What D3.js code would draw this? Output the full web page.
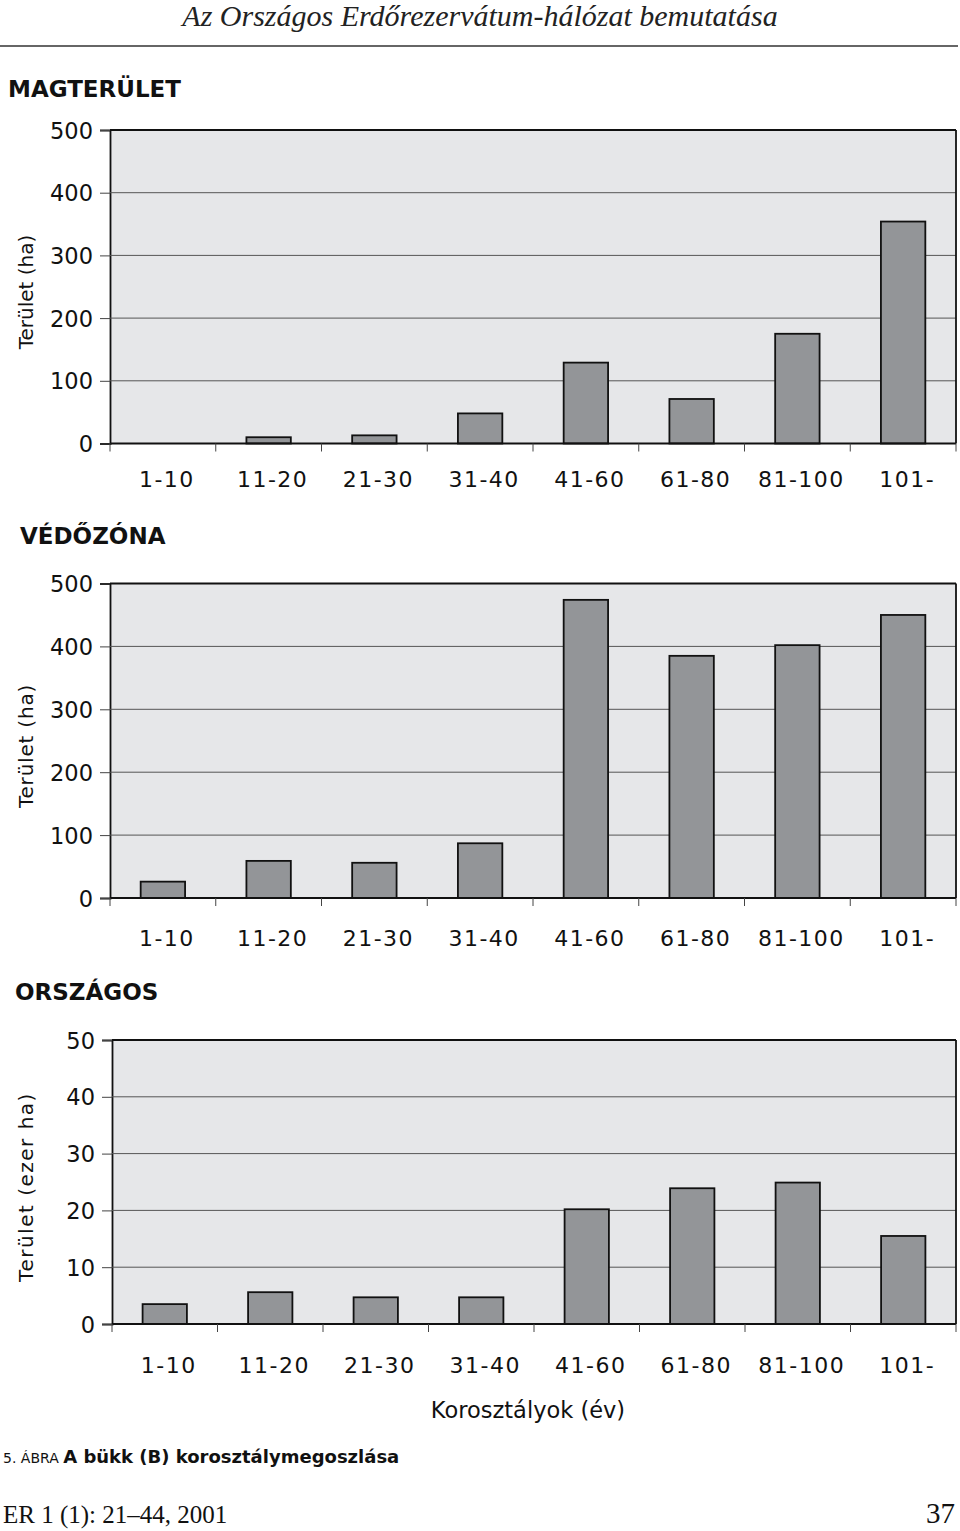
<!DOCTYPE html>
<html><head><meta charset="utf-8">
<script src="https://cdn.jsdelivr.net/npm/d3@7"></script>
<style>
body{margin:0;background:#fff;}
svg{display:block;}
</style></head>
<body>
<script>
const categories = ["1-10","11-20","21-30","31-40","41-60","61-80","81-100","101-"];
const magterulet = [0, 10, 13, 48, 129, 71, 175, 354];
const vedozona = [26, 59, 56, 87, 474, 385, 402, 450];
const orszagos = [3.5, 5.6, 4.7, 4.7, 20.2, 23.9, 24.9, 15.5];
const ticksHa = [0, 100, 200, 300, 400, 500];
const ticksEzer = [0, 10, 20, 30, 40, 50];

const W = 960, H = 1531;
const svg = d3.select("body").append("svg").attr("width", W).attr("height", H);
const sans = "'DejaVu Sans', Lato, sans-serif";
const serif = "'Liberation Serif', 'DejaVu Serif', serif";

// header
svg.append("text").attr("x", 480).attr("y", 26).attr("text-anchor", "middle")
  .attr("font-family", serif).attr("font-style", "italic").attr("font-size", 30).attr("fill", "#222")
  .text("Az Országos Erdőrezervátum-hálózat bemutatása");
svg.append("line").attr("x1", 0).attr("x2", 958).attr("y1", 46).attr("y2", 46)
  .attr("stroke", "#333").attr("stroke-width", 1.5);

function panel(cfg) {
  const x = d3.scaleBand().domain(categories).range([cfg.left, 956]).paddingInner(0.58).paddingOuter(0.29);
  const xb = d3.scaleBand().domain(categories).range([cfg.left, 956]).padding(0);
  const y = d3.scaleLinear().domain([0, cfg.max]).range([cfg.bottom, cfg.top]);
  const g = svg.append("g");
  // background
  g.append("rect").attr("x", cfg.left).attr("y", cfg.top).attr("width", 956 - cfg.left)
    .attr("height", cfg.bottom - cfg.top).attr("fill", "#e6e7e9");
  // y axis
  const ya = g.append("g").attr("transform", `translate(${cfg.left},0)`)
    .call(d3.axisLeft(y).tickValues(cfg.ticks).tickSize(10).tickPadding(7));
  ya.select(".domain").attr("stroke", "#111").attr("stroke-width", 1.8);
  ya.selectAll(".tick line").attr("stroke", "#444").attr("stroke-width", 1);
  ya.selectAll(".tick text").attr("font-family", sans).attr("font-size", 22.5).attr("fill", "#111").attr("dy", "0.36em");
  // grid
  g.append("g").selectAll("line").data(cfg.ticks.filter(t => t > 0 && t < cfg.max)).join("line")
    .attr("x1", cfg.left).attr("x2", 956).attr("y1", d => y(d)).attr("y2", d => y(d))
    .attr("stroke", "#555").attr("stroke-width", 1);
  // top & right border
  g.append("line").attr("x1", cfg.left).attr("x2", 956).attr("y1", y(cfg.max)).attr("y2", y(cfg.max))
    .attr("stroke", "#111").attr("stroke-width", 1.8);
  g.append("line").attr("x1", 956).attr("x2", 956).attr("y1", y(cfg.max)).attr("y2", y(0))
    .attr("stroke", "#111").attr("stroke-width", 1.8);
  // bars
  g.append("g").selectAll("rect").data(cfg.values.map((v, i) => ({c: categories[i], v})).filter(d => d.v > 0)).join("rect")
    .attr("x", d => x(d.c)).attr("width", x.bandwidth())
    .attr("y", d => y(d.v)).attr("height", d => y(0) - y(d.v))
    .attr("fill", "#939598").attr("stroke", "#111").attr("stroke-width", 1.8);
  // x axis
  g.append("line").attr("x1", cfg.left).attr("x2", 956).attr("y1", y(0)).attr("y2", y(0))
    .attr("stroke", "#111").attr("stroke-width", 1.8);
  const bounds = categories.map(c => xb(c)).concat([956]);
  g.append("g").selectAll("line").data(bounds).join("line")
    .attr("x1", d => d).attr("x2", d => d).attr("y1", y(0)).attr("y2", y(0) + 8)
    .attr("stroke", "#444").attr("stroke-width", 1);
  g.append("g").selectAll("text").data(categories).join("text")
    .attr("x", d => xb(d) + xb.bandwidth() / 2 + 4).attr("y", cfg.labelY)
    .attr("text-anchor", "middle").attr("font-family", sans).attr("font-size", 22)
    .attr("letter-spacing", 1.5).attr("fill", "#111").text(d => d);
  // y title
  svg.append("text").attr("transform", `translate(${cfg.titleX},${cfg.titleY}) rotate(-90)`)
    .attr("text-anchor", "middle").attr("font-family", sans).attr("font-size", 20)
    .attr("letter-spacing", cfg.titleSpacing || 0).attr("fill", "#111")
    .text(cfg.yTitle);
  // panel title
  svg.append("text").attr("x", cfg.nameX).attr("y", cfg.nameY).attr("font-family", sans)
    .attr("font-weight", 700).attr("font-size", 23).attr("fill", "#111").text(cfg.name);
}

panel({name: "MAGTERÜLET", nameX: 8, nameY: 97, values: magterulet, ticks: ticksHa, max: 500,
  left: 110, top: 130, bottom: 443.5, labelY: 487, yTitle: "Terület (ha)", titleX: 33, titleY: 292});
panel({name: "VÉDŐZÓNA", nameX: 20, nameY: 544, values: vedozona, ticks: ticksHa, max: 500,
  left: 110, top: 583.5, bottom: 898, labelY: 946, yTitle: "Terület (ha)", titleX: 33, titleY: 746, titleSpacing: 0.8});
panel({name: "ORSZÁGOS", nameX: 15, nameY: 1000, values: orszagos, ticks: ticksEzer, max: 50,
  left: 112, top: 1040, bottom: 1324, labelY: 1373, yTitle: "Terület (ezer ha)", titleX: 33, titleY: 1187, titleSpacing: 1.5});

svg.append("text").attr("x", 528).attr("y", 1418).attr("text-anchor", "middle")
  .attr("font-family", sans).attr("font-size", 22.5).attr("fill", "#111").text("Korosztályok (év)");

// caption
const cap = svg.append("text").attr("x", 3).attr("y", 1463).attr("font-family", sans).attr("fill", "#111");
cap.append("tspan").attr("font-size", 14).text("5. ÁBRA ");
cap.append("tspan").attr("font-size", 18).attr("font-weight", 700).text("A bükk (B) korosztálymegoszlása");

// footer
svg.append("text").attr("x", 3).attr("y", 1523).attr("font-family", serif).attr("font-size", 25)
  .attr("fill", "#111").text("ER 1 (1): 21–44, 2001");
svg.append("text").attr("x", 955).attr("y", 1523).attr("text-anchor", "end").attr("font-family", serif)
  .attr("font-size", 29).attr("fill", "#111").text("37");
</script>
</body></html>
